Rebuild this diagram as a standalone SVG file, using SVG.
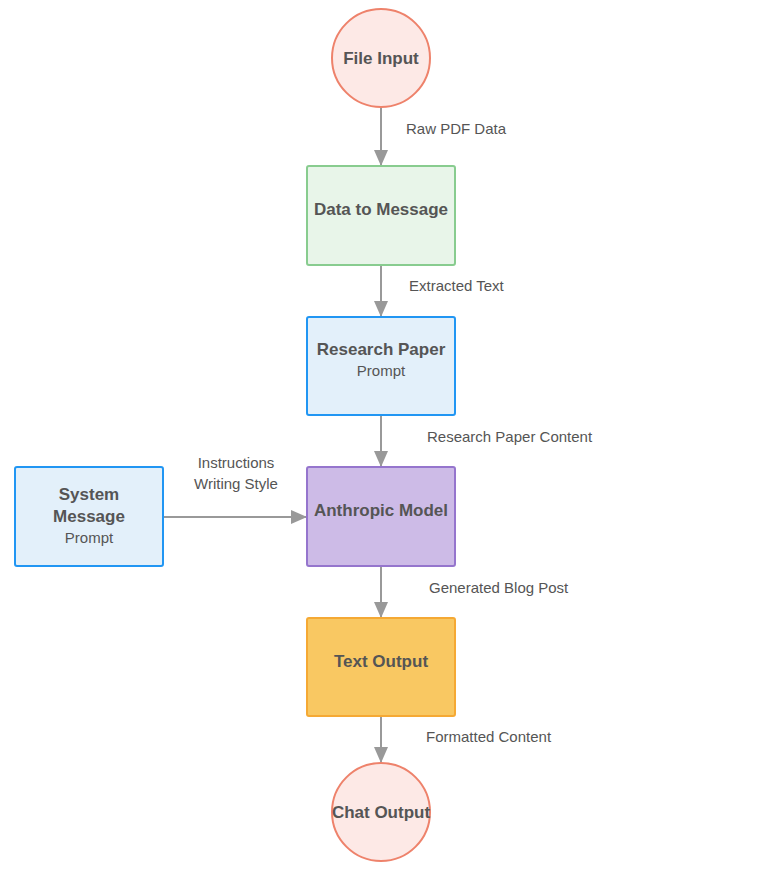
<svg xmlns="http://www.w3.org/2000/svg" width="762" height="870" viewBox="0 0 762 870">
<defs>
<style>
.t{font-family:"Liberation Sans",Arial,sans-serif;fill:#555;text-anchor:middle}
.b{font-weight:bold;font-size:17px}
.n{font-size:15px}
.lbl{font-family:"Liberation Sans",Arial,sans-serif;fill:#555;font-size:15px}
.e{stroke:#999;stroke-width:2;fill:none}
.circ{fill:#fde9e6;stroke:#ee826b;stroke-width:2}
</style>
<marker id="ah" markerWidth="16" markerHeight="14" refX="16" refY="7" orient="auto" markerUnits="userSpaceOnUse" viewBox="0 0 16 14">
<path d="M0,0 L16,7 L0,14 z" fill="#999"/>
</marker>
</defs>
<rect width="762" height="870" fill="#ffffff"/>
<g id="connectors">
<path class="e" d="M381,107 L381,166" marker-end="url(#ah)"/>
<path class="e" d="M381,265 L381,317" marker-end="url(#ah)"/>
<path class="e" d="M381,415 L381,467" marker-end="url(#ah)"/>
<path class="e" d="M163,517 L307,517" marker-end="url(#ah)"/>
<path class="e" d="M381,566 L381,618" marker-end="url(#ah)"/>
<path class="e" d="M381,716 L381,763" marker-end="url(#ah)"/>
<text class="lbl" x="406" y="134">Raw PDF Data</text>
<text class="lbl" x="409" y="291">Extracted Text</text>
<text class="lbl" x="427" y="442">Research Paper Content</text>
<text class="lbl" x="236" y="468" text-anchor="middle">Instructions</text>
<text class="lbl" x="236" y="489" text-anchor="middle">Writing Style</text>
<text class="lbl" x="429" y="593">Generated Blog Post</text>
<text class="lbl" x="426" y="742">Formatted Content</text>
</g>
<g id="file-input">
<circle class="circ" cx="381" cy="58" r="49"/>
<text class="t b" x="381" y="64">File Input</text>
</g>
<g id="data-to-message">
<rect x="307" y="166" width="148" height="99" rx="2" fill="#e8f5e9" stroke="#88cc8f" stroke-width="2"/>
<text class="t b" x="381" y="215">Data to Message</text>
</g>
<g id="research-paper">
<rect x="307" y="317" width="148" height="98" rx="2" fill="#e3f0fa" stroke="#2196f3" stroke-width="2"/>
<text class="t b" x="381" y="355">Research Paper</text>
<text class="t n" x="381" y="376">Prompt</text>
</g>
<g id="system-message">
<rect x="15" y="467" width="148" height="99" rx="2" fill="#e3f0fa" stroke="#2196f3" stroke-width="2"/>
<text class="t b" x="89" y="500">System</text>
<text class="t b" x="89" y="522">Message</text>
<text class="t n" x="89" y="543">Prompt</text>
</g>
<g id="anthropic-model">
<rect x="307" y="467" width="148" height="99" rx="2" fill="#cdbbe7" stroke="#9575cd" stroke-width="2"/>
<text class="t b" x="381" y="516">Anthropic Model</text>
</g>
<g id="text-output">
<rect x="307" y="618" width="148" height="98" rx="2" fill="#f9c862" stroke="#f5a934" stroke-width="2"/>
<text class="t b" x="381" y="667">Text Output</text>
</g>
<g id="chat-output">
<circle class="circ" cx="381" cy="812" r="49"/>
<text class="t b" x="381" y="818">Chat Output</text>
</g>
</svg>
